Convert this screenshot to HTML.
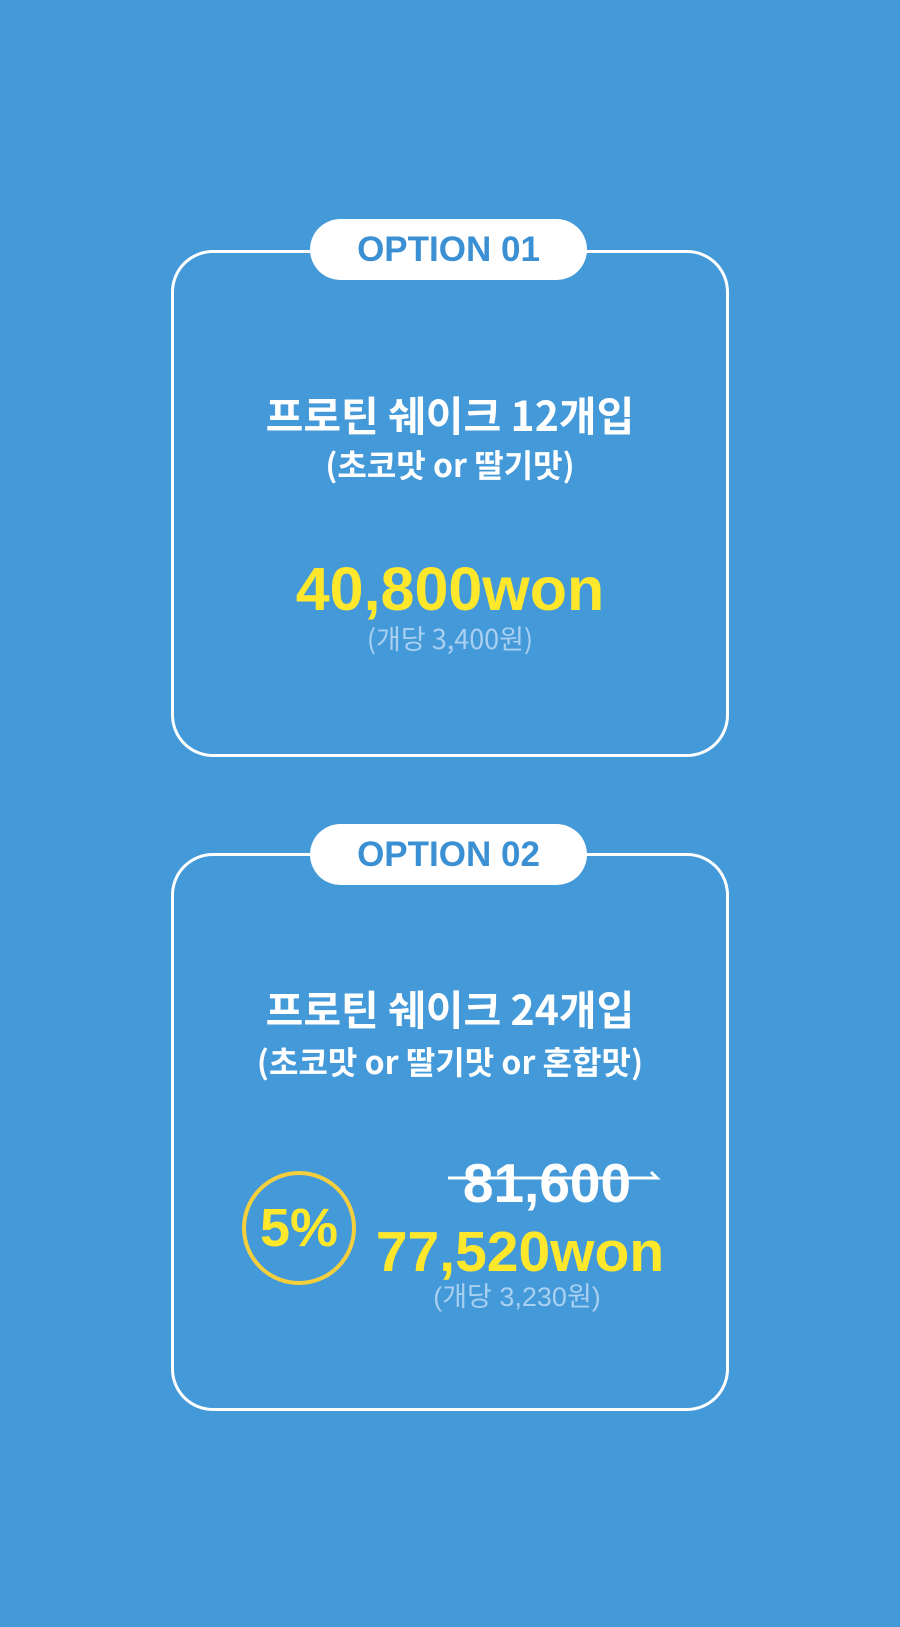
<!DOCTYPE html>
<html><head><meta charset="utf-8"><style>
body{margin:0;width:900px;height:1627px;background:#4499d9;position:relative;overflow:hidden;font-family:"Liberation Sans","Noto Sans CJK KR",sans-serif}
.card{position:absolute;left:171px;width:558px;border:3px solid #fff;border-radius:42px;box-sizing:border-box}
.pill{position:absolute;left:310px;width:277px;height:61px;background:#fff;border-radius:31px;color:#3b8fd3;font-weight:bold;font-size:35px;display:flex;align-items:center;justify-content:center}
.t{position:absolute;left:0;width:900px;text-align:center;color:#fff;font-weight:bold;font-family:"Noto Sans CJK KR","Liberation Sans",sans-serif;white-space:nowrap}
.y{color:#ffe72c;font-family:"Liberation Sans",sans-serif;font-weight:bold}
.s{color:#a9d0f1;font-weight:normal}
</style></head><body>
<div class="card" style="top:250px;height:507px"></div>
<div class="pill" style="top:219px">OPTION 01</div>
<div class="t" style="top:388px;font-size:41px;line-height:50px">프로틴 쉐이크 12개입</div>
<div class="t" style="top:444px;font-size:32px;line-height:40px">(초코맛 or 딸기맛)</div>
<div class="t y" style="top:554px;font-size:61px;line-height:70px">40,800won</div>
<div class="t s" style="top:620px;font-size:27px;line-height:36px">(개당 3,400원)</div>

<div class="card" style="top:853px;height:558px"></div>
<div class="pill" style="top:824px">OPTION 02</div>
<div class="t" style="top:982px;font-size:41px;line-height:50px">프로틴 쉐이크 24개입</div>
<div class="t" style="top:1041px;font-size:32px;line-height:40px">(초코맛 or 딸기맛 or 혼합맛)</div>
<div style="position:absolute;left:242px;top:1171px;width:114px;height:114px;border:4px solid #f6d03c;border-radius:50%;box-sizing:border-box;display:flex;align-items:center;justify-content:center;color:#ffe72c;font-weight:bold;font-size:54px;font-family:'Liberation Sans',sans-serif">5%</div>
<div style="position:absolute;left:447px;top:1153px;width:200px;text-align:center;color:#fff;font-weight:bold;font-size:55px;line-height:60px;font-family:'Liberation Sans',sans-serif">81,600</div>
<svg style="position:absolute;left:445px;top:1168px" width="220" height="20"><path d="M3 10 H212 L206 4" stroke="#fff" stroke-width="3" fill="none"/></svg>
<div style="position:absolute;left:370px;top:1217px;width:300px;text-align:center;color:#ffe72c;font-weight:bold;font-size:57px;line-height:70px;font-family:'Liberation Sans',sans-serif;white-space:nowrap">77,520won</div>
<div style="position:absolute;left:367px;top:1279px;width:300px;text-align:center;color:#a9d0f1;font-size:27px;line-height:36px;font-family:'Liberation Sans','Noto Sans CJK KR',sans-serif">(개당 3,230원)</div>
</body></html>
